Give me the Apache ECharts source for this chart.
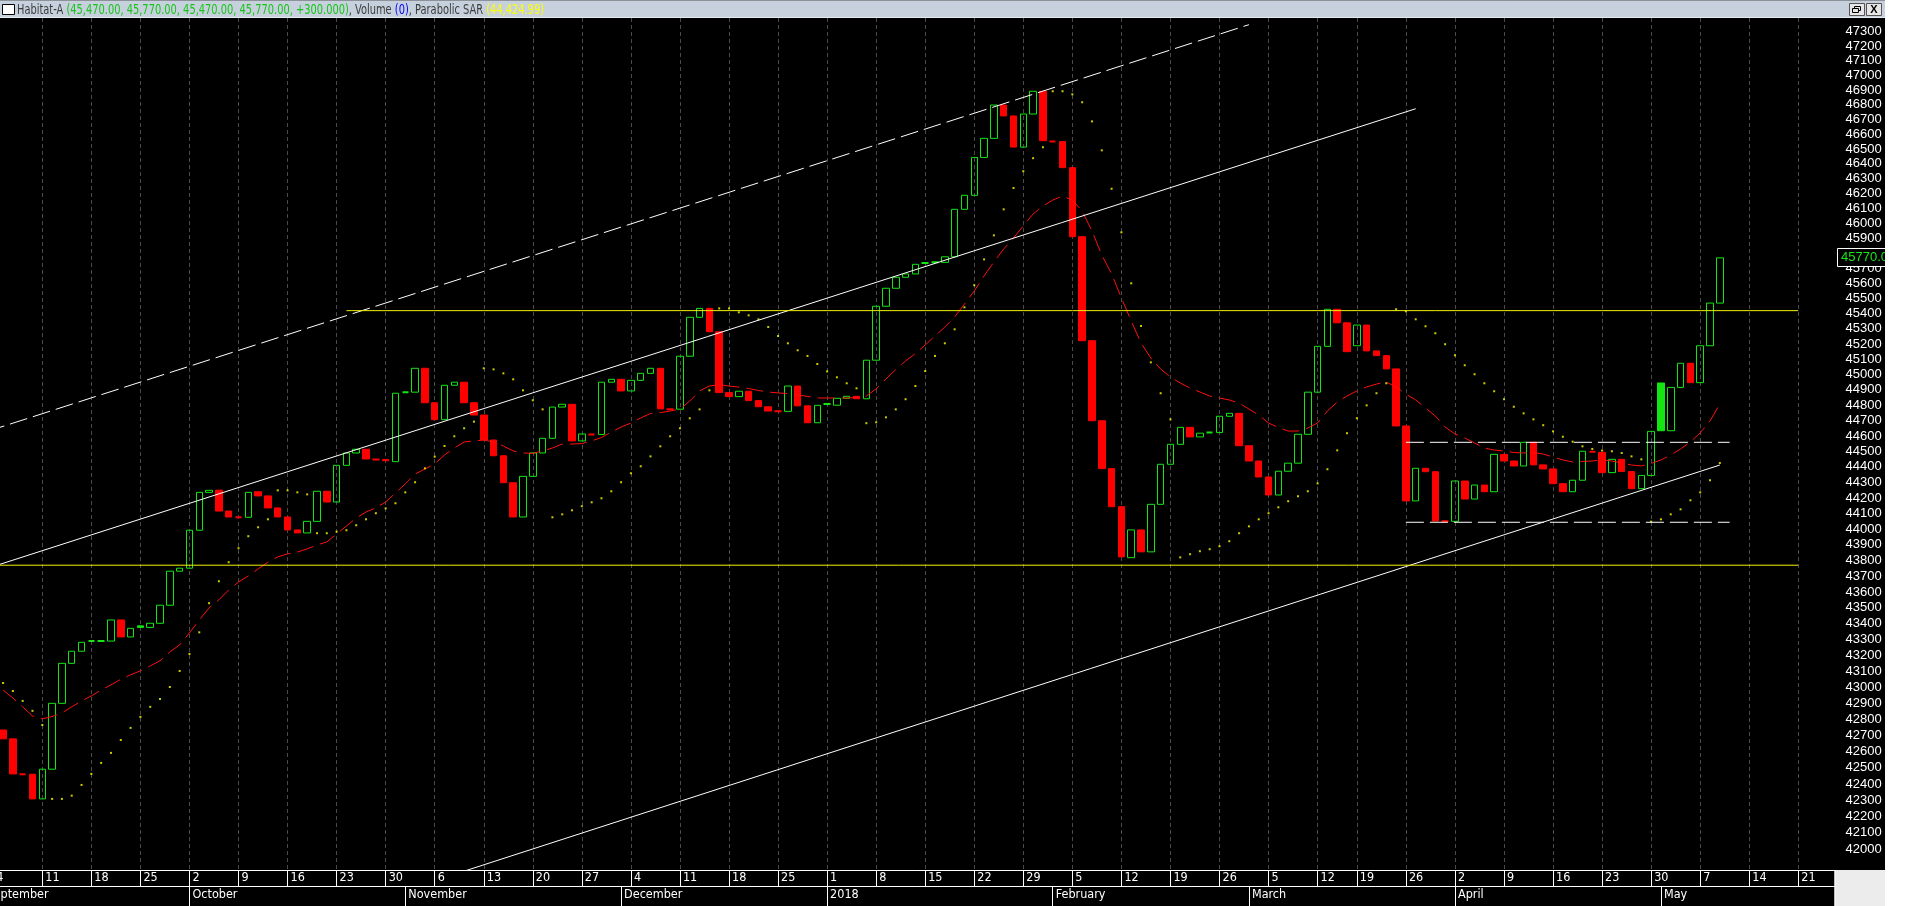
<!DOCTYPE html>
<html>
<head>
<meta charset="utf-8">
<script src="https://cdn.jsdelivr.net/npm/echarts@6/dist/echarts.min.js"></script>
<style>
html,body{margin:0;padding:0;background:#ffffff;overflow:hidden;}
#c{width:1920px;height:906px;}
</style>
</head>
<body>
<div id="c"></div>
<script>
// ---------------- DATA ----------------
const symbolName = 'Habitat-A';
const calendarStart = '2017-09-01';
const calendarEnd = '2018-05-31';
const nonTradingDays = ['2018-03-16'];
const candleStart = '2017-09-05';

const opens = [
 42734,42679,42460,42460,
 42308,42491,42900,43150,43226,43290,43290,43290,43423,43316,
 43386,43376,43402,43516,43732,43751,43993,44236,44250,44116,
 44076,44076,44240,44213,44136,44078,43995,43976,44050,44243,
 44174,44410,44490,44514,44448,44448,44434,44885,44885,45041,
 44816,44706,44930,44950,44816,44736,44574,44472,44298,44078,
 44339,44490,44585,44788,44806,44568,44610,44610,44950,44969,
 44893,44962,45008,45041,44774,44774,45120,45376,45435,45281,
 44882,44856,44891,44830,44790,44760,44760,44925,44796,44686,
 44808,44800,44845,44858,44842,45094,45449,45568,45641,45663,
 45735,45740,45740,45777,46094,46188,46443,46572,46798,46724,
 46513,46737,46892,46550,46550,46374,45911,45222,44699,44389,
 44144,43818,43995,43855,44159,44417,44546,44656,44594,44622,
 44622,44728,44747,44537,44438,44335,44219,44372,44424,44611,
 44885,45185,45429,45340,45189,45325,45155,45124,45037,44665,
 44181,44391,44369,44050,44050,44309,44193,44283,44240,44481,
 44438,44406,44559,44413,44387,44292,44240,44314,44498,44494,
 44363,44449,44370,44260,44345,44945,44634,44916,45074,44947,45189,45470
];
const closes = [
 42679,42462,42460,42308,
 42491,42900,43150,43226,43282,43290,43290,43423,43316,43370,
 43376,43402,43516,43732,43751,43993,44236,44249,44116,44078,
 44076,44236,44213,44136,44078,43995,43976,44050,44243,44174,
 44410,44490,44514,44451,44448,44440,44878,44885,45041,44816,
 44706,44930,44950,44816,44736,44574,44472,44298,44078,44339,
 44490,44585,44788,44806,44568,44613,44610,44950,44969,44893,
 44962,45008,45041,44776,44774,45120,45376,45435,45281,44882,
 44856,44891,44830,44790,44762,44760,44925,44796,44686,44799,
 44808,44845,44858,44842,45094,45449,45568,45641,45663,45727,
 45735,45740,45777,46094,46188,46443,46572,46798,46724,46513,
 46737,46892,46556,46550,46374,45911,45222,44699,44389,44144,
 43823,43995,43855,44159,44417,44546,44656,44594,44618,44622,
 44728,44747,44537,44438,44335,44219,44372,44424,44611,44885,
 45185,45429,45340,45150,45325,45155,45124,45037,44665,44181,
 44391,44369,44052,44050,44309,44193,44283,44240,44481,44438,
 44406,44559,44413,44387,44292,44240,44314,44501,44498,44363,
 44449,44370,44260,44345,44630,44634,44916,45074,44947,45189,45470,45770
];
const movingAvg = [
 42983,42933,42878,42821,
 42803,42818,42840,42878,42915,42946,42983,43015,43050,43078,
 43103,43134,43166,43222,43266,43341,43423,43499,43550,43613,
 43663,43702,43746,43790,43823,43842,43854,43874,43899,43918,
 43969,44020,44071,44110,44136,44174,44232,44290,44354,44386,
 44419,44477,44522,44561,44568,44574,44561,44535,44503,44490,
 44487,44503,44522,44548,44548,44551,44568,44590,44626,44658,
 44684,44717,44746,44752,44762,44775,44827,44893,44925,44935,
 44925,44918,44909,44896,44886,44880,44876,44867,44857,44847,
 44847,44847,44847,44850,44860,44906,44971,45033,45089,45138,
 45194,45253,45312,45378,45464,45550,45650,45742,45829,45902,
 45983,46063,46116,46156,46183,46156,46082,45949,45789,45663,
 45504,45352,45207,45108,45036,44984,44945,44912,44886,44860,
 44847,44834,44814,44775,44736,44684,44655,44632,44632,44652,
 44684,44762,44821,44860,44893,44919,44938,44951,44919,44873,
 44834,44782,44730,44658,44613,44587,44555,44522,44509,44503,
 44493,44490,44493,44483,44464,44445,44432,44435,44438,44445,
 44438,44425,44412,44406,44422,44445,44477,44516,44561,44620,44697,44808
];
const parabolicSar = [
 43027,42977,42915,42853,
 42765,42308,42308,42328,42394,42462,42530,42592,42672,42747,
 42815,42878,42927,43002,43102,43209,43345,43529,43668,43789,
 43878,43955,44012,44063,44249,44249,44236,44223,43974,43974,
 43984,43993,44025,44063,44102,44133,44166,44236,44301,44391,
 44466,44535,44598,44650,44693,45041,45034,45008,44969,44897,
 44832,44773,44076,44095,44121,44147,44172,44198,44243,44301,
 44359,44404,44468,44533,44598,44650,44715,44773,44897,45435,
 45435,45409,45389,45363,45312,45253,45205,45159,45122,45069,
 45021,44982,44943,44910,44683,44689,44721,44773,44839,44925,
 45023,45122,45205,45297,45442,45588,45760,45920,46094,46237,
 46350,46438,46512,46892,46892,46871,46817,46687,46491,46232,
 45940,45601,45319,45080,44878,44708,43820,43840,43859,43872,
 43891,43923,43974,44018,44063,44102,44140,44179,44211,44243,
 44294,44385,44507,44618,44715,44799,44878,44943,45429,45416,
 45363,45317,45271,45199,45126,45061,45002,44943,44891,44839,
 44790,44747,44708,44670,44630,44595,44563,44533,44516,44506,
 44501,44490,44468,44449,44048,44063,44095,44127,44185,44236,44314,44424.99
];
const lastVolume = 0;

// drawn lines: [trading-day index, price]
const channelTop    = [[1, 44642], [129, 47348]];
const channelMid    = [[1, 43762], [146, 46773]];
const channelLow    = [[46, 41808], [177, 44412]];
const resistanceLn  = [[37, 45420], [185, 45420]];
const supportLn     = [[1, 43770], [185, 43770]];
const rangeTopLn    = [[145, 44559], [178, 44559]];
const rangeBottomLn = [[145, 44044], [178, 44044]];

const priceTicks = [];
for (let v = 42000; v <= 47300; v += 100) priceTicks.push(v);
const priceMinorTicks = [];
for (let v = 41950; v <= 47350; v += 100) priceMinorTicks.push(v);
const monthLabels = ['January','February','March','April','May','June','July','August','September','October','November','December'];
const priceMin = 41873, priceMax = 47394;
const dayMin = 0, dayMax = 188.69;

// ---------------- BUILD ----------------
const dates = [];
for (let d = new Date(calendarStart + 'T00:00:00Z'); d <= new Date(calendarEnd + 'T00:00:00Z'); d.setUTCDate(d.getUTCDate() + 1)) {
  const wd = d.getUTCDay();
  const s = d.toISOString().slice(0, 10);
  if (wd > 0 && wd < 6 && nonTradingDays.indexOf(s) < 0) dates.push(s);
}
const mondayIdx = [], monthIdx = [];
dates.forEach((s, i) => {
  if (new Date(s + 'T00:00:00Z').getUTCDay() === 1) mondayIdx.push(i);
  if (i === 0 || s.slice(5, 7) !== dates[i - 1].slice(5, 7)) monthIdx.push(i);
});
const start = dates.indexOf(candleStart);
const L = Math.log;
const GREEN = '#14e614', RED = '#ff0000';

function hasFont(name) {
  const c = document.createElement('canvas').getContext('2d');
  c.font = '40px monospace';
  const w1 = c.measureText('abcdefghiXYZ1234567').width;
  c.font = '40px "' + name + '", monospace';
  return c.measureText('abcdefghiXYZ1234567').width !== w1;
}
const narrowOk = hasFont('Liberation Sans Narrow');
const NARROW = narrowOk ? '"Liberation Sans Narrow"' : '"DejaVu Sans Condensed", "Liberation Sans"';
const narrowSize = narrowOk ? 14 : 12.5;
const REG = '"Liberation Sans", Arial, sans-serif';

const candleItems = opens.map((o, i) => {
  const c = closes[i];
  const prev = i > 0 ? closes[i - 1] : o;
  const col = c >= prev ? GREEN : RED;
  const hollow = c > o;
  const fill = hollow ? 'rgba(0,0,0,0)' : col;
  return {
    value: [start + i, L(o), L(c), L(Math.min(o, c)), L(Math.max(o, c))],
    itemStyle: { color: fill, color0: fill, borderColor: col, borderColor0: col, borderColorDoji: col, borderWidth: o === c ? 2 : 1 }
  };
});
const toPts = arr => arr.map((v, i) => [start + i, L(v)]);
const seg = pts => pts.map(p => [p[0], L(p[1])]);

function lineSeries(pts, color, type, offset) {
  return {
    type: 'line', data: seg(pts), symbol: 'none', silent: true, animation: false, z: 6,
    lineStyle: { color: color, width: 1, type: type || 'solid', dashOffset: offset || 0 }
  };
}

const option = {
  backgroundColor: '#ffffff',
  animation: false,
  grid: { left: -16.56, right: 85.51, top: 18, bottom: 36, containLabel: false, outerBoundsMode: 'none', show: false },
  xAxis: [
    {
      type: 'value', min: dayMin, max: dayMax, position: 'bottom',
      axisLine: { show: true, onZero: false, lineStyle: { color: '#ffffff', width: 1 } },
      axisTick: { show: true, customValues: mondayIdx, length: 16, lineStyle: { color: '#ffffff', width: 1 } },
      axisLabel: {
        show: true, customValues: mondayIdx, color: '#ffffff', fontFamily: NARROW, fontSize: narrowSize,
        align: 'left', margin: 1, padding: [0, 0, 0, 3],
        formatter: v => String(parseInt(dates[Math.round(v)].slice(8, 10), 10))
      },
      splitLine: { show: true, lineStyle: { color: '#4a4a4a', width: 1, type: [4, 3] } }
    },
    {
      type: 'value', min: dayMin, max: dayMax, position: 'bottom', offset: 16,
      axisLine: { show: true, onZero: false, lineStyle: { color: '#ffffff', width: 1 } },
      axisTick: { show: true, customValues: monthIdx, length: 20, lineStyle: { color: '#ffffff', width: 1 } },
      axisLabel: {
        show: true, customValues: monthIdx, color: '#ffffff', fontFamily: NARROW, fontSize: narrowSize,
        align: 'left', margin: 2, padding: [0, 0, 0, 3],
        formatter: v => {
          const s = dates[Math.round(v)];
          const m = parseInt(s.slice(5, 7), 10) - 1;
          return m === 0 ? s.slice(0, 4) : monthLabels[m];
        }
      },
      splitLine: { show: false }
    }
  ],
  yAxis: [
    {
      type: 'value', position: 'right', min: L(priceMin), max: L(priceMax),
      axisLine: { show: true, lineStyle: { color: '#ffffff', width: 1 } },
      axisTick: { show: true, inside: false, customValues: priceTicks.map(L), length: 8, lineStyle: { color: '#ffffff' } },
      axisLabel: {
        show: true, customValues: priceTicks.map(L), color: '#ffffff', fontFamily: REG, fontSize: 13, margin: 11,
        formatter: v => String(Math.round(Math.exp(v)))
      },
      splitLine: { show: false }
    },
    {
      type: 'value', position: 'right', min: L(priceMin), max: L(priceMax),
      axisLine: { show: false },
      axisTick: { show: true, inside: false, customValues: priceMinorTicks.map(L), length: 4, lineStyle: { color: '#ffffff' } },
      axisLabel: { show: false },
      splitLine: { show: false }
    }
  ],
  series: [
    {
      type: 'candlestick', name: symbolName, data: candleItems, barWidth: 7, clip: true, z: 3, animation: false
    },
    {
      type: 'line', name: 'MA', data: toPts(movingAvg), symbol: 'none', silent: true, z: 4,
      lineStyle: { color: '#ff1010', width: 1, type: [17, 7] }
    },
    {
      type: 'scatter', name: 'Parabolic SAR', data: toPts(parabolicSar), symbol: 'rect', symbolSize: 2, silent: true, z: 4,
      itemStyle: { color: '#ffff00' }
    },
    lineSeries(channelTop, '#ffffff', [18, 6], 6.4),
    lineSeries(channelMid, '#ffffff'),
    lineSeries(channelLow, '#ffffff'),
    lineSeries(resistanceLn, '#f2f200'),
    lineSeries(supportLn, '#f2f200'),
    lineSeries(rangeTopLn, '#ffffff', [18, 6]),
    lineSeries(rangeBottomLn, '#ffffff', [18, 6])
  ]
};

const chart = echarts.init(document.getElementById('c'), null, { renderer: 'canvas', width: 1920, height: 906 });
chart.setOption(option);

// ---------------- FRAME / TITLE ----------------
const n = opens.length;
const lastO = opens[n - 1], lastC = closes[n - 1];
const lastH = Math.max(lastO, lastC), lastLo = Math.min(lastO, lastC);
const chg = lastC - closes[n - 2];
const f2 = v => v.toLocaleString('en-US', { minimumFractionDigits: 2, maximumFractionDigits: 2 });
const titleStr =
  '{n|' + symbolName + ' }{g|(' + f2(lastO) + ', ' + f2(lastH) + ', ' + f2(lastLo) + ', ' + f2(lastC) + ', ' +
  (chg >= 0 ? '+' : '') + chg.toFixed(3) + ')}{n|, Volume }{b|(' + lastVolume + ')}{n|, Parabolic SAR }{y|(' +
  f2(parabolicSar[n - 1]) + ')}';
const plainTitle = titleStr.replace(/\{[a-z]\||\}/g, '');
const titleSize = 13.5;
const mc = document.createElement('canvas').getContext('2d');
mc.font = titleSize + 'px ' + NARROW;
const tw = mc.measureText(plainTitle).width;
const titleScale = 527 / tw;

const axisRight = 1834.5;
const yLast = chart.convertToPixel({ yAxisIndex: 0 }, L(lastC));
const tf = { fontFamily: NARROW, fontSize: titleSize };

chart.setOption({
  graphic: { elements: [
    { type: 'rect', z: -100, silent: true, shape: { x: 0, y: 0, width: 1885, height: 906 }, style: { fill: '#000000' } },
    { type: 'rect', z: -99, silent: true, shape: { x: axisRight, y: 870, width: 1885 - axisRight, height: 36 }, style: { fill: '#ececec' } },
    { type: 'line', z: 50, silent: true, shape: { x1: axisRight + 0.5, y1: 870, x2: axisRight + 0.5, y2: 906 }, style: { stroke: '#ffffff', lineWidth: 1 } },
    // title bar
    { type: 'rect', z: 50, silent: true, shape: { x: 0, y: 0, width: 1885, height: 18 }, style: { fill: '#c6d1dd' } },
    { type: 'rect', z: 51, silent: true, shape: { x: 0, y: 0, width: 1885, height: 1 }, style: { fill: '#8d9299' } },
    { type: 'rect', z: 51, silent: true, shape: { x: 0, y: 17, width: 1885, height: 1 }, style: { fill: '#e8ecf0' } },
    { type: 'rect', z: 52, silent: true, shape: { x: 2.5, y: 4.5, width: 12, height: 10 }, style: { fill: '#ffffff', stroke: '#000000', lineWidth: 1 } },
    { type: 'text', z: 52, silent: true, x: 17, y: 10, scaleX: titleScale, scaleY: 1,
      style: { text: titleStr, verticalAlign: 'middle', align: 'left',
        rich: {
          n: Object.assign({ fill: '#3c3c3c' }, tf),
          g: Object.assign({ fill: '#17c417' }, tf),
          b: Object.assign({ fill: '#0000ff' }, tf),
          y: Object.assign({ fill: '#ffff00' }, tf)
        } } },
    // window buttons
    { type: 'rect', z: 52, silent: true, shape: { x: 1849.5, y: 3.5, width: 15, height: 12 }, style: { fill: '#e6e6e6', stroke: '#555555', lineWidth: 1 } },
    { type: 'rect', z: 53, silent: true, shape: { x: 1854.5, y: 6.5, width: 6, height: 4 }, style: { fill: 'none', stroke: '#000000', lineWidth: 1 } },
    { type: 'rect', z: 53, silent: true, shape: { x: 1852.5, y: 8.5, width: 6, height: 4 }, style: { fill: '#e6e6e6', stroke: '#000000', lineWidth: 1 } },
    { type: 'rect', z: 52, silent: true, shape: { x: 1866.5, y: 3.5, width: 15, height: 12 }, style: { fill: '#e6e6e6', stroke: '#555555', lineWidth: 1 } },
    { type: 'text', z: 53, silent: true, x: 1874, y: 10, style: { text: 'X', fill: '#000000', font: 'bold 11px ' + REG, align: 'center', verticalAlign: 'middle' } },
    // last value box
    { type: 'rect', z: 60, silent: true, shape: { x: 1837.5, y: Math.round(yLast) - 9.5, width: 60, height: 18 }, style: { fill: '#000000', stroke: '#ffffff', lineWidth: 1 } },
    { type: 'text', z: 61, silent: true, x: 1841, y: yLast, style: { text: f2(lastC).replace(/,/g, ''), fill: '#19e619', font: '13px ' + REG, align: 'left', verticalAlign: 'middle' } },
    // window edge on the right
    { type: 'rect', z: 100, silent: true, shape: { x: 1885, y: 0, width: 35, height: 906 }, style: { fill: '#ffffff' } }
  ] }
});
</script>
</body>
</html>
